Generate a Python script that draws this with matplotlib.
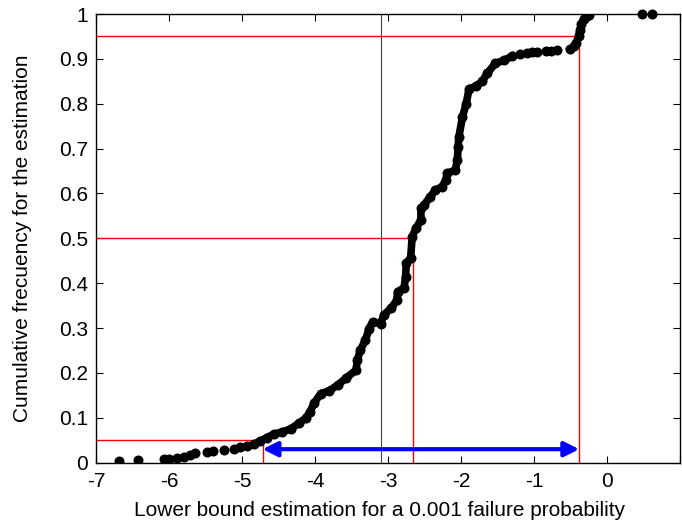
import numpy as np
import matplotlib.pyplot as plt
from matplotlib.ticker import FormatStrFormatter

# sparse dots at the lower tail
tail_x = [-6.69, -6.43, -6.07, -6.00, -5.89, -5.80, -5.71, -5.64, -5.48, -5.40,
          -5.25, -5.11, -5.03, -4.93]
tail_y = [0.003, 0.005, 0.008, 0.009, 0.011, 0.013, 0.017, 0.021, 0.023, 0.026,
          0.028, 0.031, 0.034, 0.037]

# dense part of the cumulative curve
mid_x = [-4.84, -4.75, -4.66, -4.56, -4.45, -4.33, -4.22, -4.13, -4.07, -4.01,
         -3.92, -3.81, -3.69, -3.58, -3.44, -3.42, -3.38, -3.31, -3.26, -3.21,
         -3.10, -3.06, -2.96, -2.88, -2.87, -2.78, -2.76, -2.75, -2.69, -2.67,
         -2.62, -2.55, -2.55, -2.51, -2.42, -2.35, -2.26, -2.21, -2.19, -2.08,
         -2.05, -2.04, -2.03, -1.98, -1.93, -1.89, -1.80, -1.71, -1.64, -1.53,
         -1.41, -1.30]
mid_y = [0.041, 0.048, 0.056, 0.064, 0.068, 0.076, 0.088, 0.099, 0.113, 0.134,
         0.154, 0.160, 0.173, 0.188, 0.206, 0.229, 0.251, 0.273, 0.299, 0.314,
         0.310, 0.329, 0.344, 0.362, 0.381, 0.390, 0.414, 0.444, 0.457, 0.503,
         0.522, 0.541, 0.567, 0.574, 0.593, 0.608, 0.615, 0.630, 0.645, 0.652,
         0.674, 0.704, 0.726, 0.771, 0.800, 0.833, 0.839, 0.850, 0.868, 0.890,
         0.897, 0.906]

# flat upper part (separate dots)
flat_x = [-1.19, -1.10, -1.03, -0.96, -0.84, -0.77, -0.69]
flat_y = [0.911, 0.913, 0.915, 0.916, 0.918, 0.918, 0.919]

# final rise
top_x = [-0.50, -0.45, -0.42, -0.39, -0.37, -0.35, -0.32, -0.28, -0.25]
top_y = [0.922, 0.928, 0.936, 0.950, 0.965, 0.978, 0.989, 0.996, 0.999]

# last outliers
out_x = [0.48, 0.62]
out_y = [1.0, 1.0]

# quantiles (5%, 50%, 95%) and reference value
levels = [0.05, 0.5, 0.95]
quant = [-4.72, -2.66, -0.38]
ref_x = -3.09
arrow_y = 0.03

xticks = [-7, -6, -5, -4, -3, -2, -1, 0, 1]
xticklabels = ['-7', '-6', '-5', '-4', '-3', '-2', '-1', '0', '']

plt.rcParams['font.family'] = ['Liberation Sans', 'DejaVu Sans']

fig = plt.figure(figsize=(6.82, 5.21), dpi=100)
ax = fig.add_axes([0.141, 0.112, 0.856, 0.861])

# red quantile lines
for lv, q in zip(levels, quant):
    ax.plot([-7, q], [lv, lv], color='red', lw=1.0, zorder=2)
    ax.plot([q, q], [0, lv], color='red', lw=1.0, zorder=2)

ax.plot([ref_x, ref_x], [0, 1], color='#444444', lw=0.8, zorder=1)

ms = 6.2
ax.plot(tail_x, tail_y, 'o', color='k', ms=ms, zorder=3)
ax.plot(mid_x, mid_y, 'o-', color='k', ms=ms, lw=5.5, zorder=3)
ax.plot(flat_x, flat_y, 'o', color='k', ms=ms, zorder=3)
ax.plot(top_x, top_y, 'o-', color='k', ms=ms, lw=5.5, zorder=3)
ax.plot(out_x, out_y, 'o', color='k', ms=ms, zorder=3, clip_on=False)

# blue double arrow between 5% and 95% quantiles
ax.annotate('', xy=(quant[2], arrow_y), xytext=(quant[0], arrow_y),
            arrowprops=dict(arrowstyle='<|-|>', color='#0000ff', lw=3,
                            mutation_scale=22, shrinkA=0, shrinkB=0),
            zorder=4)

ax.set_xlim(-7, 1)
ax.set_ylim(0, 1)
ax.set_xticks(xticks)
ax.set_xticklabels(xticklabels)
ax.set_yticks(np.arange(0, 1.01, 0.1))
ax.yaxis.set_major_formatter(FormatStrFormatter('%g'))
ax.tick_params(direction='in', top=True, right=True, length=5, width=0.8,
               labelsize=15, colors='k')
ax.tick_params(axis='x', pad=7)
ax.tick_params(axis='y', pad=6)
for s in ax.spines.values():
    s.set_linewidth(1.0)

ax.set_xlabel('Lower bound estimation for a 0.001 failure probability',
              fontsize=15, va='center')
ax.set_ylabel('Cumulative frecuency for the estimation', fontsize=15,
              va='center')
ax.xaxis.set_label_coords(0.485, -0.106)
ax.yaxis.set_label_coords(-0.127, 0.5)

fig.savefig('out.png', dpi=100)
